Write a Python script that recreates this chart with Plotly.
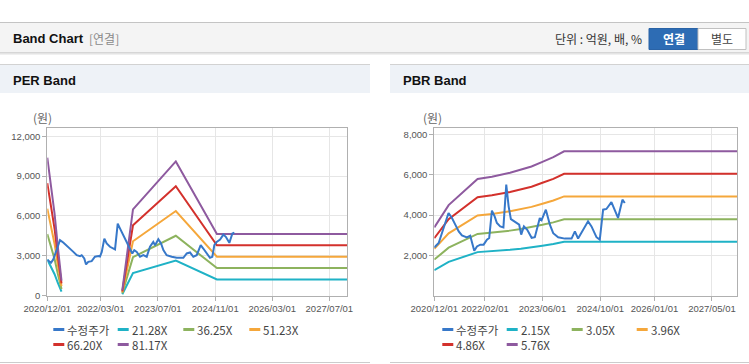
import plotly.graph_objects as go

W, H = 749, 364

# ---------------- data ----------------
band_colors = ["#1fb2c6", "#8db35e", "#f5a73b", "#d3312c", "#8e5a9f"]
price_color = "#3778c9"

per_multiples = [21.28, 36.25, 51.23, 66.20, 81.17]
per_labels = ["21.28X", "36.25X", "51.23X", "66.20X", "81.17X"]
per_eps_dates = ["2020-12-01", "2021-01-01", "2021-02-01", "2021-03-01", "2021-04-01",
                 "2021-12-01",
                 "2022-09-01", "2022-12-01", "2023-12-01", "2024-11-15", "2027-12-01"]
per_eps = [128, 103, 76, 45, 14, None, 5, 80, 124.5, 57.3, 57.3]

per_price_dates = [
    "2020-12-01", "2021-01-01", "2021-01-21", "2021-03-19", "2021-04-16", "2021-05-29",
    "2021-07-11", "2021-08-09", "2021-09-06", "2021-09-20", "2021-10-12", "2021-10-27",
    "2021-11-15", "2021-12-14", "2022-01-11", "2022-02-09", "2022-02-23", "2022-03-10",
    "2022-04-01", "2022-04-21", "2022-05-19", "2022-07-01", "2022-07-24", "2022-08-13",
    "2022-09-24", "2022-10-22", "2022-11-25", "2022-12-12", "2023-01-02", "2023-01-30",
    "2023-02-27", "2023-03-28", "2023-04-25", "2023-05-23", "2023-06-07", "2023-07-05",
    "2023-07-28", "2023-08-17", "2023-09-14", "2023-10-27", "2023-12-09", "2024-02-03",
    "2024-03-03", "2024-03-31", "2024-04-28", "2024-05-27", "2024-06-30", "2024-07-22",
    "2024-08-20", "2024-09-17", "2024-10-07", "2024-10-24", "2024-11-13", "2024-12-12",
    "2025-01-09", "2025-01-30", "2025-03-01", "2025-03-27", "2025-04-13"]
per_price = [
    2700, 2480, 2730, 4180, 4000, 3680,
    3300, 3050, 2980, 3050, 2800, 2350,
    2550, 2600, 2930, 2980, 2950, 3300,
    4300, 3930, 3680, 3480, 5430, 5050,
    4300, 3800, 3180, 3430, 3300, 2930,
    3050, 2930, 3680, 4050, 3800, 4250,
    3930, 3430, 3050, 2930, 2850, 2850,
    3180, 3250, 2930, 3050, 3800, 3550,
    3180, 2850, 2930, 3800, 4050, 4230,
    4600, 4430, 3980, 4680, 4750]

pbr_multiples = [2.15, 3.05, 3.96, 4.86, 5.76]
pbr_labels = ["2.15X", "3.05X", "3.96X", "4.86X", "5.76X"]
pbr_bps_dates = ["2020-12-01", "2021-04-01", "2021-12-01", "2022-04-01", "2022-09-01",
                 "2022-12-01", "2023-03-01", "2023-06-01", "2023-09-01", "2023-12-01",
                 "2027-12-01"]
pbr_bps = [587, 780, 1005, 1024, 1058, 1083, 1112, 1152, 1192, 1243, 1243]

pbr_price_dates = [
    "2020-12-01", "2021-01-07", "2021-03-31", "2021-04-29", "2021-05-27", "2021-06-25",
    "2021-07-22", "2021-09-02", "2021-09-30", "2021-10-15", "2021-11-03", "2021-11-26",
    "2021-12-24", "2022-01-21", "2022-02-18", "2022-03-09", "2022-04-01", "2022-04-24",
    "2022-05-13", "2022-06-10", "2022-07-07", "2022-07-31", "2022-08-20", "2022-09-08",
    "2022-10-12", "2022-11-17", "2022-12-04", "2022-12-27", "2023-01-24", "2023-03-02",
    "2023-03-29", "2023-05-10", "2023-05-25", "2023-06-30", "2023-08-03", "2023-08-31",
    "2023-10-12", "2023-12-07", "2024-02-02", "2024-03-01", "2024-03-28", "2024-06-20",
    "2024-07-19", "2024-08-30", "2024-09-27", "2024-10-25", "2024-11-22", "2025-01-03",
    "2025-02-28", "2025-04-06", "2025-04-26"]
pbr_price = [
    2390, 2614, 4102, 3854, 3522, 3190,
    2991, 2892, 2976, 2693, 2232, 2445,
    2530, 2530, 2778, 2862, 4216, 3933,
    3606, 3437, 3388, 5506, 4429, 3800,
    3650, 3520, 3030, 3440, 3270, 2870,
    2900, 3850, 3750, 4266, 3522, 3100,
    2900, 2830, 2830, 3190, 2830, 3690,
    3437, 2900, 2780, 4266, 4300, 4640,
    3854, 4762, 4598]

per_xticks = ["2020-12-01", "2022-03-01", "2023-07-01", "2024-11-01", "2026-03-01", "2027-07-01"]
per_xtext = ["2020/12/01", "2022/03/01", "2023/07/01", "2024/11/01", "2026/03/01", "2027/07/01"]
pbr_xticks = ["2020-12-01", "2022-02-01", "2023-06-01", "2024-10-01", "2026-01-01", "2027-05-01"]
pbr_xtext = ["2020/12/01", "2022/02/01", "2023/06/01", "2024/10/01", "2026/01/01", "2027/05/01"]
per_yticks = [0, 3000, 6000, 9000, 12000]
pbr_yticks = [2000, 4000, 6000, 8000]
price_label = "수정주가"

# ---------------- helpers ----------------
def px(x):
    return x / W


def py(y):
    return 1 - y / H


FONT = "Liberation Sans, Noto Sans CJK KR, sans-serif"
KFONT = "Noto Sans CJK KR, Liberation Sans, sans-serif"

fig = go.Figure()

# PER bands
for m, c, lab in zip(per_multiples, band_colors, per_labels):
    fig.add_trace(go.Scatter(
        x=per_eps_dates, y=[None if e is None else e * m for e in per_eps],
        mode="lines", line=dict(color=c, width=2), name=lab, showlegend=False,
        connectgaps=False, xaxis="x", yaxis="y"))
fig.add_trace(go.Scatter(x=per_price_dates, y=per_price, mode="lines",
                         line=dict(color=price_color, width=2), name=price_label,
                         showlegend=False, xaxis="x", yaxis="y"))
# PBR bands
for m, c, lab in zip(pbr_multiples, band_colors, pbr_labels):
    fig.add_trace(go.Scatter(
        x=pbr_bps_dates, y=[b * m for b in pbr_bps],
        mode="lines", line=dict(color=c, width=2), name=lab, showlegend=False,
        xaxis="x2", yaxis="y2"))
fig.add_trace(go.Scatter(x=pbr_price_dates, y=pbr_price, mode="lines",
                         line=dict(color=price_color, width=2), name=price_label,
                         showlegend=False, xaxis="x2", yaxis="y2"))

axis_common = dict(showline=True, mirror=True, linecolor="#b0b0b0", linewidth=1,
                   showgrid=True, gridcolor="#e6e6e6", gridwidth=1, zeroline=False,
                   ticks="outside", ticklen=4, tickcolor="#b0b0b0", automargin=False,
                   tickangle=0,
                   tickfont=dict(family=FONT, size=9.5, color="#555555"))

ydom = [py(295.7), py(128.3)]
fig.update_layout(
    width=W, height=H, margin=dict(l=0, r=0, t=0, b=0, pad=0),
    paper_bgcolor="white", plot_bgcolor="white", showlegend=False,
    xaxis=dict(domain=[px(47.3), px(347.3)], type="date",
               range=["2020-12-01", "2027-12-01"], tickvals=per_xticks, ticktext=per_xtext,
               anchor="y", **axis_common),
    yaxis=dict(domain=ydom, range=[0, 12600], tickvals=per_yticks, tickformat=",d",
               anchor="x", **axis_common),
    xaxis2=dict(domain=[px(434.3), px(737.3)], type="date",
                range=["2020-12-01", "2027-12-01"], tickvals=pbr_xticks, ticktext=pbr_xtext,
                anchor="y2", **axis_common),
    yaxis2=dict(domain=ydom, range=[0, 8300], tickvals=pbr_yticks, tickformat=",d",
                anchor="x2", **axis_common),
)

shapes = []
annotations = []

# header bar
shapes.append(dict(type="rect", xref="paper", yref="paper", x0=0, x1=1, y0=py(52), y1=py(22),
                   fillcolor="#f4f4f4", line=dict(width=0), layer="below"))
shapes.append(dict(type="line", xref="paper", yref="paper", x0=0, x1=1, y0=py(22.5), y1=py(22.5),
                   line=dict(color="#c4c4c4", width=1)))
for yy, col in [(52.5, "#d6d6d6"), (53.5, "#e4e4e4"), (54.5, "#f0f0f0")]:
    shapes.append(dict(type="line", xref="paper", yref="paper", x0=0, x1=1, y0=py(yy), y1=py(yy),
                       line=dict(color=col, width=1)))
annotations.append(dict(text="<b>Band Chart</b>", x=px(11), y=py(39), xref="paper", yref="paper",
                        xanchor="left", yanchor="middle", showarrow=False,
                        font=dict(family=FONT, size=13, color="#111111")))
annotations.append(dict(text="[연결]", x=px(87), y=py(39), xref="paper", yref="paper",
                        xanchor="left", yanchor="middle", showarrow=False,
                        font=dict(family=KFONT, size=12, color="#8a8a8a")))
annotations.append(dict(text="단위 : 억원, 배, %", x=px(644), y=py(39), xref="paper", yref="paper",
                        xanchor="right", yanchor="middle", showarrow=False,
                        font=dict(family=KFONT, size=12, color="#333333")))
# buttons
shapes.append(dict(type="rect", xref="paper", yref="paper", x0=px(649), x1=px(698), y0=py(49.5), y1=py(28.5),
                   fillcolor="#2d6cb4", line=dict(color="#2a63a6", width=1)))
shapes.append(dict(type="rect", xref="paper", yref="paper", x0=px(698), x1=px(746), y0=py(49.5), y1=py(28.5),
                   fillcolor="#ffffff", line=dict(color="#c0c0c0", width=1)))
annotations.append(dict(text="<b>연결</b>", x=px(673.5), y=py(39), xref="paper", yref="paper",
                        xanchor="center", yanchor="middle", showarrow=False,
                        font=dict(family=KFONT, size=12, color="#ffffff")))
annotations.append(dict(text="별도", x=px(722), y=py(39), xref="paper", yref="paper",
                        xanchor="center", yanchor="middle", showarrow=False,
                        font=dict(family=KFONT, size=12, color="#444444")))

# panels
for x0, x1, title in [(0, 370, "PER Band"), (390, 749, "PBR Band")]:
    shapes.append(dict(type="rect", xref="paper", yref="paper", x0=px(x0), x1=px(x1), y0=py(93), y1=py(64.5),
                       fillcolor="#eef2f7", line=dict(width=0), layer="below"))
    shapes.append(dict(type="line", xref="paper", yref="paper", x0=px(x0), x1=px(x1), y0=py(64.5), y1=py(64.5),
                       line=dict(color="#d2d2d2", width=1)))
    shapes.append(dict(type="line", xref="paper", yref="paper", x0=px(x0), x1=px(x1), y0=py(362.5), y1=py(362.5),
                       line=dict(color="#cccccc", width=1)))
    annotations.append(dict(text="<b>" + title + "</b>", x=px(x0 + 11), y=py(80.5), xref="paper", yref="paper",
                            xanchor="left", yanchor="middle", showarrow=False,
                            font=dict(family=FONT, size=13, color="#111111")))
    annotations.append(dict(text="(원)", x=px(x0 + 31), y=py(118), xref="paper", yref="paper",
                            xanchor="left", yanchor="middle", showarrow=False,
                            font=dict(family=KFONT, size=12, color="#666666")))

# manual legends
def legend(x_cols, rows_y, labels, colors):
    for i, (lab, col) in enumerate(zip(labels, colors)):
        r, cidx = divmod(i, 4)
        x0 = x_cols[cidx]
        y0 = rows_y[r]
        shapes.append(dict(type="line", xref="paper", yref="paper", x0=px(x0), x1=px(x0 + 11),
                           y0=py(y0), y1=py(y0), line=dict(color=col, width=3)))
        annotations.append(dict(text=lab, x=px(x0 + 12), y=py(y0), xref="paper", yref="paper",
                                xanchor="left", yanchor="middle", showarrow=False,
                                font=dict(family=KFONT, size=11.5, color="#444444")))


legend([53.3, 117.7, 183.3, 249.3], [329.5, 344.5], [price_label] + per_labels,
       [price_color] + band_colors)
legend([442.3, 506.7, 571.7, 636.7], [329.5, 344.5], [price_label] + pbr_labels,
       [price_color] + band_colors)

fig.update_layout(shapes=shapes, annotations=annotations)

fig.write_html("out.html", config={"displayModeBar": False},
               post_script="document.body.style.margin='0';document.body.style.overflow='hidden';")
